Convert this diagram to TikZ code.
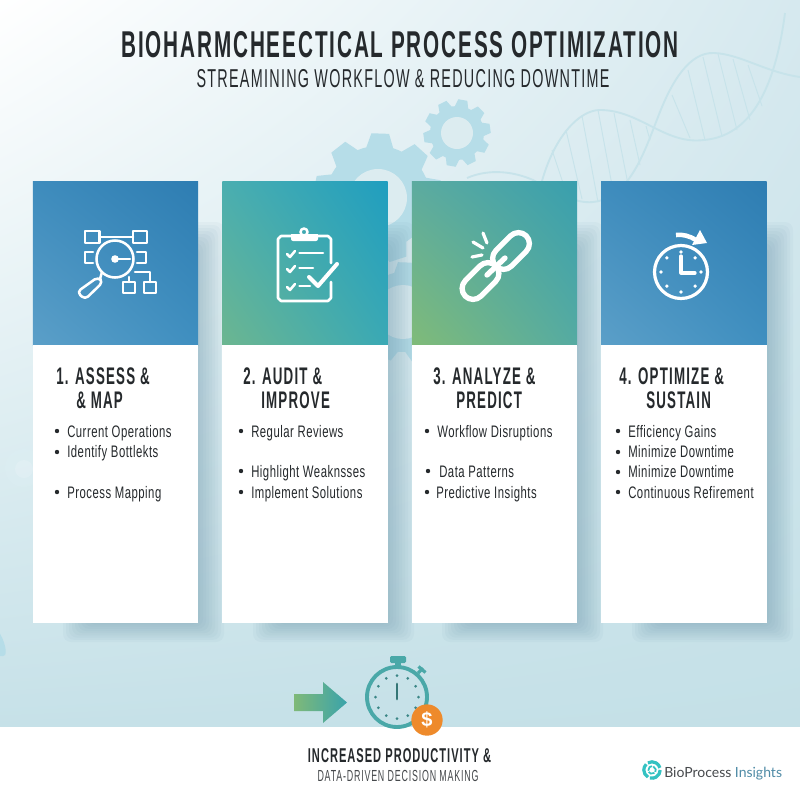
\documentclass[tikz,border=0pt]{standalone}
\usepackage{fontspec}
\usetikzlibrary{shadings}
\newfontfamily\cond[FakeStretch=0.555,LetterSpace=5]{Liberation Sans}
\newfontfamily\condlist[FakeStretch=0.68,LetterSpace=3]{Liberation Sans}
\newfontfamily\brand{Lato}
\definecolor{gearblue}{HTML}{B6DDE8}
\definecolor{ink}{HTML}{25292C}
\definecolor{helix}{HTML}{C7E3EA}
\definecolor{teal}{HTML}{4AA8A8}
\definecolor{wash}{HTML}{DCECF0}
\definecolor{shadowtone}{HTML}{5F8DA3}
\definecolor{coinorange}{HTML}{EE8A2B}
\definecolor{bgur}{HTML}{D6E9EF}
\definecolor{bgll}{HTML}{C6E1E8}
\definecolor{bglr}{HTML}{C4E0E7}
\definecolor{aul}{HTML}{3E8CBD}
\definecolor{aur}{HTML}{2E7DB2}
\definecolor{all}{HTML}{5B9FC8}
\definecolor{alr}{HTML}{3F8FC0}
\definecolor{bul}{HTML}{4AAEB0}
\definecolor{bur}{HTML}{209EBF}
\definecolor{bll}{HTML}{6CB690}
\definecolor{blr}{HTML}{3AA9B5}
\definecolor{cul}{HTML}{5CABA0}
\definecolor{cur}{HTML}{399FAE}
\definecolor{cll}{HTML}{80BB78}
\definecolor{clr}{HTML}{55ABA2}
\definecolor{arrowl}{HTML}{7FB978}
\definecolor{arrowr}{HTML}{3AA3AB}
\newcommand{\cogwheel}[6]{
 \fill[gearblue] (#1,#2) circle[radius=#3];
 \foreach \i in {1,...,#4}
  \fill[gearblue,shift={(#1,#2)},rotate=\i*360/#4+8] (#3-2,-#3*0.26) -- (#3*1.24,-#3*0.17) -- (#3*1.24,#3*0.17) -- (#3-2,#3*0.26) -- cycle;
 \fill[#6] (#1,#2) circle[radius=#5];
}
\begin{document}
\begin{tikzpicture}[x=0.75pt,y=-0.75pt,node distance=142.1pt]
 \tikzstyle{every node}=[inner sep=0pt]
 \tikzstyle{head}=[minimum width=124pt, minimum height=123pt]
 \tikzstyle{body}=[fill=white, minimum width=124pt, minimum height=208.5pt]
 \tikzstyle{stephead}=[anchor=base west, text=ink, font=\cond\bfseries\fontsize{18pt}{20pt}\selectfont]
 \tikzstyle{li}=[anchor=base west, text=ink, font=\condlist\fontsize{12.5pt}{14pt}\selectfont]
 \tikzstyle{dot}=[circle, fill=ink, minimum size=3.3pt]
 \tikzstyle{icon}=[draw=white, line width=1.9pt, line join=round, line cap=round]
 \tikzstyle{strand}=[draw=helix, line width=1.4pt]
 \tikzstyle{rung}=[draw=helix, line width=0.7pt]
 \useasboundingbox (0,0) rectangle (800,800);
 \shade[upper left=white, upper right=bgur, lower left=bgll, lower right=bglr] (0,0) rectangle (800,727);
 \fill[white!55!gearblue,opacity=0.25] (24,468) circle[radius=19];
 \fill[white,opacity=0.15] (24,469) circle[radius=9];
 \fill[gearblue] (-4,630) .. controls (2,632) and (8,652) .. (5,655) .. controls (2,658) and (-2,655) .. (-4,654) -- cycle;
 \cogwheel{378}{198}{52}{9}{29}{wash}
 \cogwheel{403}{312}{40}{9}{27}{wash}
 \cogwheel{457}{133}{27}{10}{16}{wash}
 \draw[strand] (542,181) .. controls (555,135) and (580,110) .. (600,110) .. controls (640,110) and (665,145) .. (704,140) .. controls (750,136) and (775,90) .. (785,13);
 \draw[strand] (467,178) .. controls (490,168) and (515,172) .. (533,180) .. controls (555,192) and (575,204) .. (593,202) .. controls (630,198) and (645,150) .. (658,117) .. controls (672,80) and (690,52) .. (714,53) .. controls (740,54) and (765,72) .. (800,77);
 \foreach \xa/\ya/\xb/\yb in {552/150/566/192,566/130/582/199,582/116/598/202,598/110/614/196,614/113/628/184,630/120/640/165,646/126/650/140,672/95/690/138,688/70/705/140,703/57/722/136,718/54/737/130,733/59/750/120,748/65/762/106}
  \draw[rung] (\xa,\ya) -- (\xb,\yb);
 \foreach \xs in {198,388,577,767}
  \foreach \k in {0,...,8}
   \fill[shadowtone, opacity=0.05, rounded corners=6pt] (\xs-135+3*\k,222+3*\k) rectangle (\xs+26-3*\k,642-2.2*\k);
 \node[head, shade, upper left=aul, upper right=aur, lower left=all, lower right=alr] (head1) at (115.5,263) {};
 \node[head, shade, upper left=bul, upper right=bur, lower left=bll, lower right=blr] (head2) [right of=head1] {};
 \node[head, shade, upper left=cul, upper right=cur, lower left=cll, lower right=clr] (head3) [right of=head2] {};
 \node[head, shade, upper left=aul, upper right=aur, lower left=all, lower right=alr] (head4) [right of=head3] {};
 \node[body] (body1) [below of=head1, node distance=165.75pt] {};
 \node[body] (body2) [below of=head2, node distance=165.75pt] {};
 \node[body] (body3) [below of=head3, node distance=165.75pt] {};
 \node[body] (body4) [below of=head4, node distance=165.75pt] {};
 \node[fill=white, minimum width=600pt, minimum height=55pt] (band) at (400,763.5) {};
 \node[anchor=base, text=ink, font=\cond\bfseries\fontsize{28pt}{30pt}\selectfont] (title) at (400,57) {BIOHARMCHEECTICAL PROCESS OPTIMIZATION};
 \node[anchor=base, text=ink, font=\cond\fontsize{19.4pt}{22pt}\selectfont] (subtitle) at (403,87) {STREAMINING WORKFLOW \& REDUCING DOWNTIME};
 \node[stephead] (t1a) at (56,384) {1. ASSESS \&};
 \node[stephead] (t1b) at (76,408) {\& MAP};
 \node[stephead] (t2a) at (243,384) {2. AUDIT \&};
 \node[stephead] (t2b) at (261,408) {IMPROVE};
 \node[stephead] (t3a) at (433,384) {3. ANALYZE \&};
 \node[stephead] (t3b) at (456,408) {PREDICT};
 \node[stephead] (t4a) at (619,384) {4. OPTIMIZE \&};
 \node[stephead] (t4b) at (646,408) {SUSTAIN};
 \node[dot] (d11) at (57,431) {}; \node[li] (l11) at (67,437) {Current Operations};
 \node[dot] (d12) at (57,452) {}; \node[li] (l12) at (67,457) {Identify Bottlekts};
 \node[dot] (d13) at (57,492) {}; \node[li] (l13) at (67,498) {Process Mapping};
 \node[dot] (d21) at (241,431) {}; \node[li] (l21) at (251,437) {Regular Reviews};
 \node[dot] (d22) at (241,471) {}; \node[li] (l22) at (251,477) {Highlight Weaknsses};
 \node[dot] (d23) at (241,492) {}; \node[li] (l23) at (251,498) {Implement Solutions};
 \node[dot] (d31) at (427,431) {}; \node[li] (l31) at (437,437) {Workflow Disruptions};
 \node[dot] (d32) at (428,471) {}; \node[li] (l32) at (439,477) {Data Patterns};
 \node[dot] (d33) at (427,492) {}; \node[li] (l33) at (436,498) {Predictive Insights};
 \node[dot] (d41) at (618,431) {}; \node[li] (l41) at (628,437) {Efficiency Gains};
 \node[dot] (d42) at (618,452) {}; \node[li] (l42) at (628,457) {Minimize Downtime};
 \node[dot] (d43) at (618,472) {}; \node[li] (l43) at (628,477) {Minimize Downtime};
 \node[dot] (d44) at (618,492) {}; \node[li] (l44) at (628,498) {Continuous Refirement};
 \draw[icon] (85,231) rectangle (99.5,243);
 \draw[icon] (133,231) rectangle (147,243);
 \draw[icon] (99.5,237) -- (133,237);
 \draw[icon] (93,252) -- (85,252) -- (85,263) -- (93,263);
 \draw[icon] (137,252) -- (146,252) -- (146,263) -- (137,263);
 \draw[icon] (115,259) circle[radius=18.5];
 \draw[icon] (115,259) -- (130,259);
 \fill[white] (115,259) circle[radius=3.8];
 \draw[icon] (129,277) -- (129,282);
 \draw[icon] (135,272) -- (150,272) -- (150,282);
 \draw[icon] (123,282) rectangle (135,293);
 \draw[icon] (144,282) rectangle (156,293);
 \draw[icon] (102,272) -- (100,279);
 \draw[icon, rounded corners=3.2pt] (98,277) -- (103,282) -- (85,299.5) -- (77,292) -- cycle;
 \draw[icon] (292,236) -- (281,236) -- (278,239) -- (278,298) -- (281,301) -- (328,301) -- (331,298) -- (331,282);
 \draw[icon] (317,236) -- (328,236) -- (331,239) -- (331,263);
 \fill[white, rounded corners=1.5pt] (291,234) rectangle (318,241);
 \draw[icon] (304,232) circle[radius=3.5];
 \fill[white] (291,234) rectangle (318,238);
 \foreach \yc/\xe in {253/323,268/313,286/310} {
  \draw[icon] (287,\yc+1) -- (290,\yc+4) -- (295,\yc-2);
  \draw[icon] (299.5,\yc) -- (\xe,\yc);
 }
 \draw[icon, line width=3pt] (309,277) -- (318,286) -- (337,264);
 \draw[icon, line width=4pt, rounded corners=8.3pt, rotate around={45:(480.5,281)}] (459,270) rectangle (502,292);
 \draw[icon, line width=4pt, rounded corners=8.3pt, rotate around={45:(511,251)}] (489.5,240) rectangle (532.5,262);
 \draw[icon, line width=4pt] (505,258) -- (487,275);
 \draw[icon, line width=2.4pt] (483,233) -- (487,243);
 \draw[icon, line width=2.4pt] (473,242) -- (483,248);
 \draw[icon, line width=2.4pt] (472,257) -- (482,255);
 \draw[icon, line width=2.4pt] (681,272) circle[radius=26.5];
 \draw[icon, line width=2.4pt] (681,256) -- (681,273) -- (695,273);
 \foreach \a in {0,45,...,315}
  \fill[white] (681,272) ++(\a:20) circle[radius=1.8];
 \draw[icon, line width=3.4pt, line cap=butt] (676,235) .. controls (682,234) and (690,236) .. (696,240);
 \fill[white] (700,230) -- (707,243) -- (692,245) -- cycle;
 \shade[left color=arrowl, right color=arrowr] (294,694) -- (323,694) -- (323,682) -- (347,702.5) -- (323,723) -- (323,711) -- (294,711) -- cycle;
 \draw[teal, line width=2.9pt] (397,697) circle[radius=30];
 \fill[teal, rounded corners=1pt] (390,656) rectangle (406,663);
 \fill[teal] (395,663) rectangle (401,667);
 \draw[teal, line width=2.4pt] (418,673) -- (423,668);
 \draw[teal, line width=2.4pt] (418.5,666.5) -- (425.5,672.5);
 \foreach \a in {0,30,...,330}
  \fill[teal!80!black] (397,697) ++(\a:21.5) circle[radius=1.5];
 \draw[teal!70!black, line width=2.1pt, line cap=round] (397,684) -- (397,699);
 \node[circle, fill=coinorange, minimum size=23.5pt, text=white, font=\fontspec{Liberation Sans}\bfseries\fontsize{15pt}{16pt}\selectfont] (coin) at (427,720) {\$};
 \node[anchor=base, text=ink, font=\cond\bfseries\fontsize{15pt}{16pt}\selectfont] (gain) at (399.5,762) {INCREASED PRODUCTIVITY \&};
 \node[anchor=base, text=ink!85, font=\cond\fontsize{12pt}{13pt}\selectfont] (gain2) at (398,781) {DATA-DRIVEN DECISION MAKING};
 \foreach \a in {0,120,240} {
  \draw[teal!70!cyan, line width=2.4pt] (652,770) ++(\a:8.2) arc[start angle=\a, end angle=\a+105, radius=8.2];
  \draw[teal!70!cyan, line width=1.3pt] (652,770) ++(\a+50:3.8) arc[start angle=\a+50, end angle=\a+150, radius=3.8];
 }
 \node[anchor=base west, text=ink!85, font=\brand\fontsize{10.5pt}{13pt}\selectfont] (logo) at (664,777) {BioProcess \textcolor[HTML]{4F8BA6}{Insights}};
\end{tikzpicture}
\end{document}
